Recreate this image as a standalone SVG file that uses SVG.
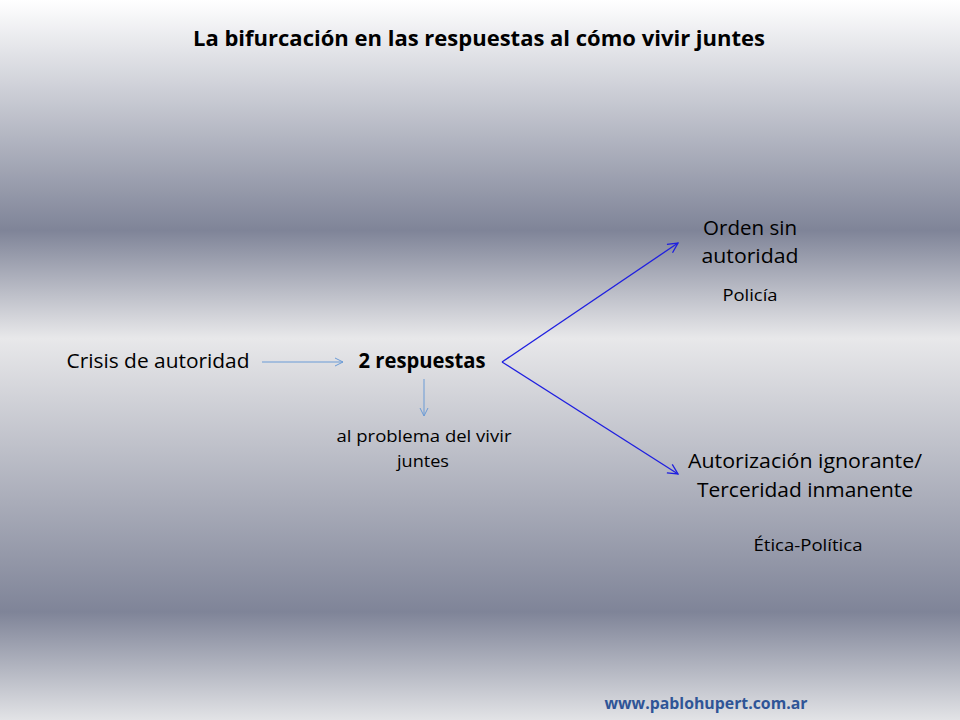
<svg xmlns="http://www.w3.org/2000/svg" width="960" height="720" viewBox="0 0 960 720">
<defs>
<linearGradient id="bg" x1="0" y1="0" x2="0" y2="1">
<stop offset="0" stop-color="#ffffff"/>
<stop offset="0.32" stop-color="#7f8498"/>
<stop offset="0.47" stop-color="#e8e8ea"/>
<stop offset="0.85" stop-color="#7f8498"/>
<stop offset="1" stop-color="#e2e3e6"/>
</linearGradient>
<marker id="la" viewBox="0 0 10 10" refX="9" refY="5" markerWidth="10" markerHeight="10" markerUnits="userSpaceOnUse" orient="auto">
<path d="M1,1 L9,5 L1,9" fill="none" stroke="#6b9bd6" stroke-width="1"/>
</marker>
<marker id="ba" viewBox="0 0 12 12" refX="11" refY="6" markerWidth="12" markerHeight="12" markerUnits="userSpaceOnUse" orient="auto">
<path d="M1,1 L11,6 L1,11" fill="none" stroke="#1f1fe0" stroke-width="1.3"/>
</marker>
</defs>
<style>
text{font-family:"Open Sans","Liberation Sans",sans-serif;fill:#000;text-anchor:middle}
.l{font-size:20.5px}
.s{font-size:16.5px}
.b{font-weight:bold}
</style>
<rect width="960" height="720" fill="url(#bg)"/>
<g id="title"><text x="479" y="46" class="l b" textLength="572" lengthAdjust="spacingAndGlyphs">La bifurcación en las respuestas al cómo vivir juntes</text></g>
<g id="crisis"><text x="158" y="368" class="l" textLength="183" lengthAdjust="spacingAndGlyphs">Crisis de autoridad</text></g>
<g id="respuestas"><text x="422" y="368" class="l b" textLength="127" lengthAdjust="spacingAndGlyphs">2 respuestas</text></g>
<g id="problema"><text x="424" y="442" class="s" textLength="175" lengthAdjust="spacingAndGlyphs">al problema del vivir</text><text x="423" y="467" class="s" textLength="52" lengthAdjust="spacingAndGlyphs">juntes</text></g>
<g id="orden"><text x="750" y="235" class="l" textLength="94" lengthAdjust="spacingAndGlyphs">Orden sin</text><text x="750" y="263" class="l" textLength="97" lengthAdjust="spacingAndGlyphs">autoridad</text><text x="750" y="301" class="s" textLength="55" lengthAdjust="spacingAndGlyphs">Policía</text></g>
<g id="autorizacion"><text x="805" y="468" class="l" textLength="234" lengthAdjust="spacingAndGlyphs">Autorización ignorante/</text><text x="805" y="497" class="l" textLength="216" lengthAdjust="spacingAndGlyphs">Terceridad inmanente</text><text x="808" y="551" class="s" textLength="109" lengthAdjust="spacingAndGlyphs">Ética-Política</text></g>
<g id="url"><text x="706" y="709" class="s b" style="fill:#2f5597" textLength="203" lengthAdjust="spacingAndGlyphs">www.pablohupert.com.ar</text></g>
<g id="connectors" fill="none">
<line x1="262" y1="362" x2="343" y2="362" stroke="#6b9bd6" stroke-width="1" marker-end="url(#la)"/>
<line x1="424" y1="379" x2="424" y2="416" stroke="#6b9bd6" stroke-width="1" marker-end="url(#la)"/>
<line x1="502" y1="362" x2="678" y2="243" stroke="#1f1fe0" stroke-width="1.3" marker-end="url(#ba)"/>
<line x1="502" y1="362" x2="678" y2="474" stroke="#1f1fe0" stroke-width="1.3" marker-end="url(#ba)"/>
</g>
</svg>
